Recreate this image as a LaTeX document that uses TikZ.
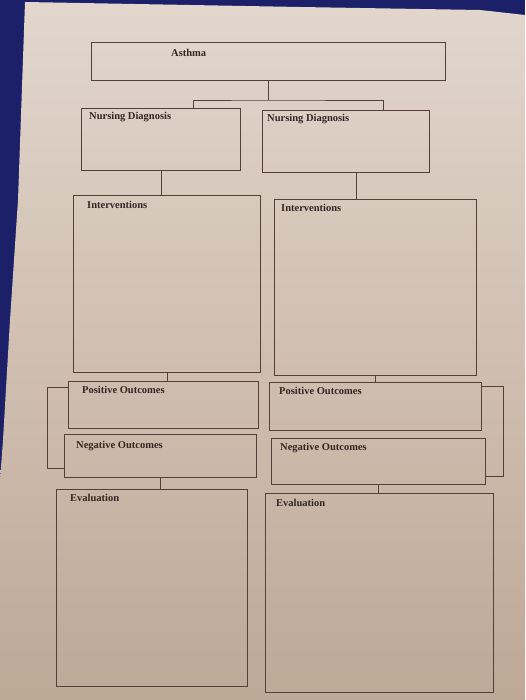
\documentclass[tikz,border=0pt]{standalone}
\usepackage{fontspec}
\setmainfont{Liberation Serif}
\usetikzlibrary{positioning,calc}
\definecolor{desk}{RGB}{28,32,104}
\definecolor{papertop}{RGB}{226,214,205}
\definecolor{paperbot}{RGB}{190,168,150}
\definecolor{ink}{RGB}{84,64,56}
\definecolor{print}{RGB}{52,38,34}
\tikzset{
  sheet/.style={draw=ink, line width=1pt},
  link/.style={draw=ink, line width=0.9pt},
  head/.style={anchor=north west, inner sep=0pt, text=print,
    font=\fontsize{10.5}{12}\selectfont\bfseries}
}
\begin{document}
\begin{tikzpicture}[x=1pt, y=-1pt]
  \useasboundingbox (0,0) rectangle (525,700);
  % desk and paper
  \fill[desk] (0,0) rectangle (525,700);
  \shade[top color=papertop, bottom color=paperbot]
    (25,2) -- (300,7) -- (480,10) -- (525,15) -- (525,700) -- (0,700) -- (0,480)
    -- (3,440) -- (10,320) -- (18,200) -- cycle;

  % boxes
  \node[sheet, anchor=north west, minimum width=354pt, minimum height=38pt] (asthma) at (91,42){};
  \node[sheet, anchor=north west, minimum width=159pt, minimum height=62pt] (ndl) at (81,108){};
  \node[sheet, anchor=north west, minimum width=167pt, minimum height=62pt] (ndr) at (262,110){};
  \node[sheet, anchor=north west, minimum width=187pt, minimum height=177pt] (intl) at (73,195){};
  \node[sheet, anchor=north west, minimum width=202pt, minimum height=176pt] (intr) at (274,199){};
  \node[sheet, anchor=north west, minimum width=190pt, minimum height=47pt] (posl) at (68,381){};
  \node[sheet, anchor=north west, minimum width=212pt, minimum height=48pt] (posr) at (269,382){};
  \node[sheet, anchor=north west, minimum width=192pt, minimum height=43pt] (negl) at (64,434){};
  \node[sheet, anchor=north west, minimum width=214pt, minimum height=46pt] (negr) at (271,438){};
  \node[sheet, anchor=north west, minimum width=191pt, minimum height=197pt] (evall) at (56,489){};
  \node[sheet, anchor=north west, minimum width=228pt, minimum height=199pt] (evalr) at (265,493){};

  % headings
  \node[head] at ($(asthma.north west)+(80,7)$){Asthma};
  \node[head] at ($(ndl.north west)+(8,4)$){Nursing Diagnosis};
  \node[head] at ($(ndr.north west)+(5,4)$){Nursing Diagnosis};
  \node[head] at ($(intl.north west)+(14,6)$){Interventions};
  \node[head] at ($(intr.north west)+(7,5)$){Interventions};
  \node[head] at ($(posl.north west)+(14,5)$){Positive Outcomes};
  \node[head] at ($(posr.north west)+(10,5)$){Positive Outcomes};
  \node[head] at ($(negl.north west)+(12,7)$){Negative Outcomes};
  \node[head] at ($(negr.north west)+(9,5)$){Negative Outcomes};
  \node[head] at ($(evall.north west)+(14,5)$){Evaluation};
  \node[head] at ($(evalr.north west)+(11,6)$){Evaluation};

  % connectors
  \draw[link] (asthma.south) -- ++(0,19) coordinate (fork);
  \draw[link] ($(ndl.north west)+(112,0)$) |- (fork) -| ($(ndr.north west)+(121,0)$);
  \draw[link] (ndl.south) -- (ndl.south |- intl.north);
  \coordinate (ndrfoot) at ($(ndr.south west)+(94,0)$);
  \draw[link] (ndrfoot) -- (ndrfoot |- intr.north);
  \draw[link] (intl.south) -- (intl.south |- posl.north);
  \draw[link] (intr.south) -- (intr.south |- posr.north);
  \draw[link] (negl.south) -- (negl.south |- evall.north);
  \draw[link] (negr.south) -- (negr.south |- evalr.north);
  % brackets
  \draw[link] ($(posl.north west)+(0,6)$) -- ++(-21,0) |- ($(negl.south west)+(0,-10)$);
  \draw[link] ($(posr.north east)+(0,4)$) -- ++(21,0) |- ($(negr.south east)+(0,-9)$);
\end{tikzpicture}
\end{document}
